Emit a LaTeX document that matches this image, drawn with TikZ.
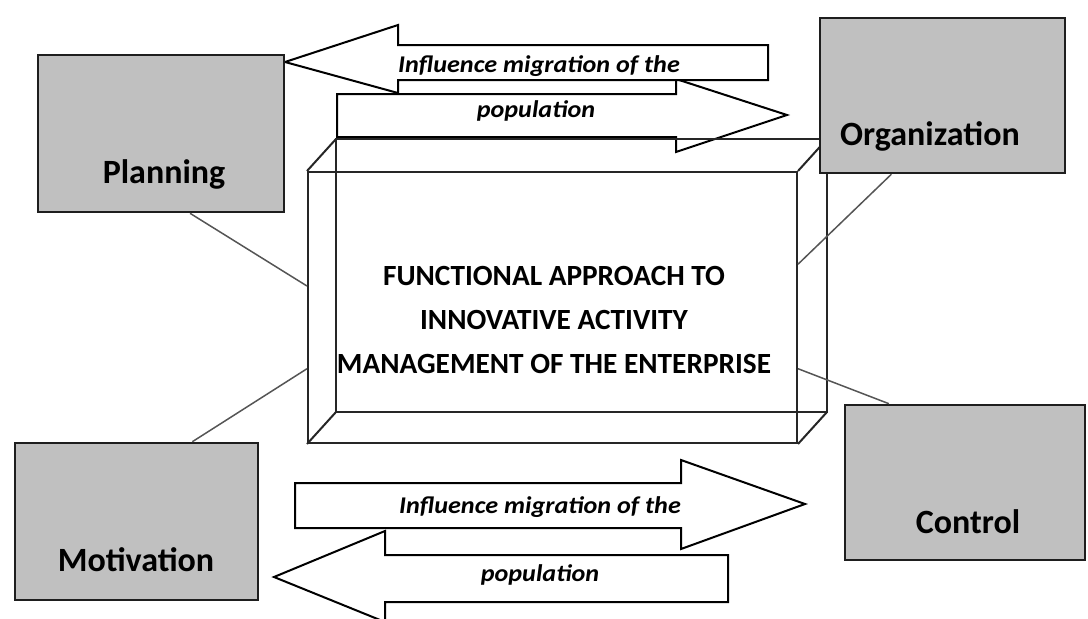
\documentclass[tikz,border=0pt]{standalone}
\usepackage{fontspec}
\newfontfamily\diagfont{Carlito}
\newfontfamily\flowfont[FakeStretch=1.09]{Carlito}
\definecolor{boxGray}{HTML}{C0C0C0}
\definecolor{edgeDark}{HTML}{1E1E1E}
\definecolor{linkGray}{HTML}{555555}
\usetikzlibrary{calc}

\begin{document}
\begin{tikzpicture}[x=1pt, y=-1pt,
    funcbox/.style={draw=edgeDark, fill=boxGray, line width=2.6pt, inner sep=0pt},
    funclabel/.style={font=\diagfont\bfseries\fontsize{34}{38}\selectfont, inner sep=0pt, anchor=base},
    flowarrow/.style={draw=black, fill=white, line width=2pt, line join=miter},
    flowtext/.style={font=\flowfont\bfseries\itshape\fontsize{24}{28}\selectfont, inner sep=0pt, anchor=base},
    cubeedge/.style={draw=black!85, line width=2pt},
    linkline/.style={draw=linkGray, line width=1.5pt}]
    \useasboundingbox (0,0) rectangle (1088,619);

    % ══════════════════════════════════════════════
    % ══ FLECHAS DE MIGRACION ══
    % ══════════════════════════════════════════════

    % Arriba: flecha hacia la derecha
    \draw[flowarrow] (337,94) -- (676,94) -- (676,79) -- (787,115) -- (676,152) -- (676,137) -- (337,137) -- cycle;
    % Arriba: flecha hacia la izquierda
    \draw[flowarrow] (285,62) -- (398,25) -- (398,45) -- (768,45) -- (768,80) -- (398,80) -- (398,93) -- cycle;
    \node[flowtext] (migTop) at (539,72) {Influence migration of the};
    \node[flowtext] (popTop) at (536,117) {population};

    % Abajo: flecha hacia la derecha
    \draw[flowarrow] (295,483) -- (681,483) -- (681,460) -- (805,504) -- (681,549) -- (681,528) -- (295,528) -- cycle;
    % Abajo: flecha hacia la izquierda
    \draw[flowarrow] (274,577) -- (385,531) -- (385,555) -- (728,555) -- (728,602) -- (385,602) -- (385,622) -- cycle;
    \node[flowtext] (migBot) at (540,513) {Influence migration of the};
    \node[flowtext] (popBot) at (540,581) {population};

    % ══════════════════════════════════════════════
    % ══ CAJA CENTRAL (3D) ══
    % ══════════════════════════════════════════════

    % Cara frontal
    \node[cubeedge, minimum width=489pt, minimum height=271pt] (core) at (552.5,307.5) {};
    % Cara trasera y aristas
    \draw[cubeedge] ($(core.north west)+(29,-32)$) rectangle ($(core.south east)+(29,-32)$);
    \foreach \c in {north west, north east, south west, south east}
        \draw[cubeedge] (core.\c) -- ++(29,-32);

    \node[font=\diagfont\bfseries\fontsize{29.3}{44}\selectfont, align=center, inner sep=0pt] (coreTitle) at (554,320)
        {FUNCTIONAL APPROACH TO\\INNOVATIVE ACTIVITY\\MANAGEMENT OF THE ENTERPRISE};

    % ══════════════════════════════════════════════
    % ══ FUNCIONES ══
    % ══════════════════════════════════════════════

    \node[funcbox, minimum width=246pt, minimum height=157pt] (plan) at (161,133.5) {};
    \node[funclabel] (planText) at (164,183) {Planning};

    \node[funcbox, minimum width=245pt, minimum height=155pt] (org) at (942.5,95.5) {};
    \node[funclabel] (orgText) at (930,145) {Organization};

    \node[funcbox, minimum width=240pt, minimum height=155pt] (ctrl) at (965,482.5) {};
    \node[funclabel] (ctrlText) at (968,533) {Control};

    \node[funcbox, minimum width=243pt, minimum height=157pt] (motiv) at (136.5,521.5) {};
    \node[funclabel] (motivText) at (136,571) {Motivation};

    % Enlaces con la caja central
    \draw[linkline] (plan.-70) -- (core.175);
    \draw[linkline] (motiv.55) -- (core.194);
    \draw[linkline] (org.237) -- (core.10);
    \draw[linkline] (ctrl.134) -- (core.-14);

\end{tikzpicture}
\end{document}
